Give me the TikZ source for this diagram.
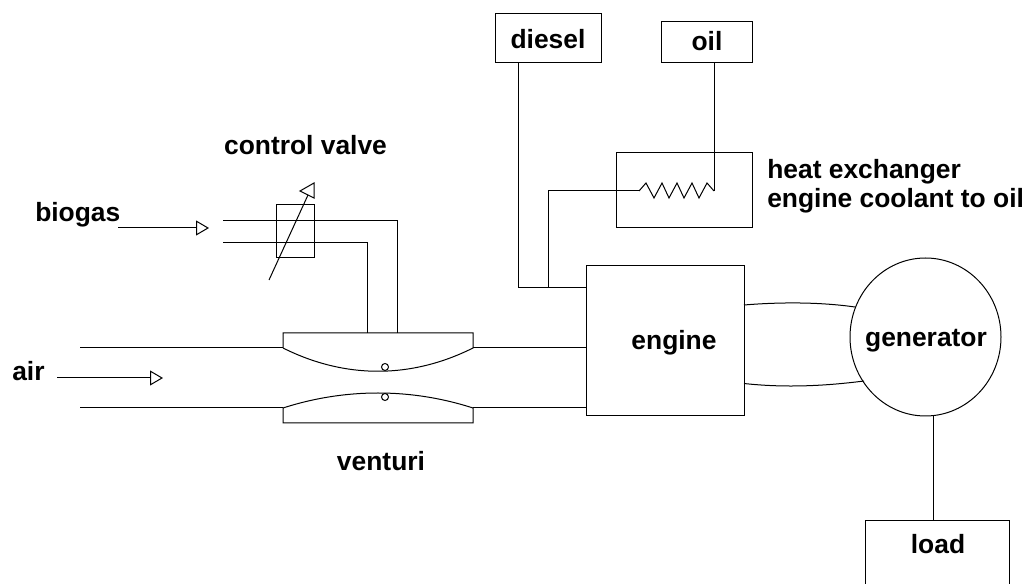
\documentclass[tikz,border=0pt]{standalone}
\usepackage{fontspec}
\setmainfont{Liberation Sans}
\usetikzlibrary{arrows.meta,shapes.geometric}

\def\unit{0.75pt}

\tikzset{
  base/.style={line width=\unit},
  lbl/.style={font=\fontsize{19.8}{21.75}\selectfont\bfseries,inner sep=0pt},
  block/.style={draw,rectangle,line width=\unit,inner sep=0pt},
  flow/.style={base,-{Triangle[open,length=13*\unit,width=15*\unit]}}
}

\begin{document}
\begin{tikzpicture}[x=\unit,y=-\unit]

      \useasboundingbox (0,0) rectangle (1029,584);

      \begin{scope}[every node/.style={block}]
        \node[minimum width=106*\unit,minimum height=49*\unit] (diesel) at (548,38.5) {};
        \node[minimum width=91*\unit,minimum height=41*\unit]  (oil)    at (706.5,42.5) {};
        \node[minimum width=136*\unit,minimum height=75*\unit] (heat)   at (684,190.5) {};
        \node[minimum width=158*\unit,minimum height=150*\unit] (engine) at (665,341) {};
        \node[minimum width=38*\unit,minimum height=53*\unit]  (valve)  at (295,231.5) {};
        \node[minimum width=144*\unit,minimum height=100*\unit] (load)  at (937,571) {};
        \node[ellipse,minimum width=151*\unit,minimum height=158*\unit] (gen) at (925.5,337) {};
      \end{scope}

      \begin{scope}[every node/.style={lbl}]
        \node (dieseltxt) at (548,39.5)  {diesel};
        \node (oiltxt)    at (707,41)  {oil};
        \node (enginetxt) at (674,343) {engine};
        \node (gentxt)    at (926,340.5) {generator};
        \node (loadtxt)   at (938,544.5) {load};
        \node (valvetxt)  at (305.5,145.5) {control valve};
        \node (venturitxt) at (381,461) {venturi};
        \node[anchor=west] (biogastxt) at (35,215) {biogas};
        \node[anchor=west] (airtxt)    at (12,371) {air};
        \node[anchor=west,align=left] (heattxt) at (767,186) {heat exchanger\\engine coolant to oil};
      \end{scope}

      % fuel side
      \coordinate (dieseljoin) at (518,288);
      \coordinate (heatjoin)   at (548,288);
      \coordinate (coilin)     at (639,191);
      \coordinate (coilout)    at (714,191);

      \draw[base] (dieseljoin |- diesel.south) -- (dieseljoin) -- (dieseljoin -| engine.west);
      \draw[base] (heatjoin) -- (heatjoin |- coilin) -- (coilin);
      \draw[base] (coilout |- oil.south) -- (coilout);
      \draw[base] (coilin) -- ++(7,-8) -- ++(8,15) -- ++(8,-15) -- ++(7,15) -- ++(8,-15)
        -- ++(7,15) -- ++(8,-15) -- ++(7,15) -- ++(8,-15) -- (coilout);

      % venturi
      \coordinate (venttopl) at (283,348);
      \coordinate (venttopr) at (473,348);
      \coordinate (ventlowl) at (283,408);
      \coordinate (ventlowr) at (473,408);
      \coordinate (airtop)   at (80,348);
      \coordinate (airlow)   at (80,408);
      \coordinate (gasin)    at (367,333);
      \coordinate (airin)    at (397,333);

      \draw[base] (venttopl) -- (283,333) -- (473,333) -- (venttopr)
        .. controls (411,379) and (345,379) .. (venttopl);
      \draw[base] (ventlowl) -- (283,423) -- (473,423) -- (ventlowr)
        .. controls (411,388) and (345,388) .. (ventlowl);
      \node[circle,draw,line width=\unit,inner sep=0pt,minimum size=7*\unit] (holetop) at (385,367) {};
      \node[circle,draw,line width=\unit,inner sep=0pt,minimum size=7*\unit] (holelow) at (385,397) {};

      \draw[base] (airtop) -- (venttopl);
      \draw[base] (airlow) -- (ventlowl);
      \draw[base] (venttopr) -- (venttopr -| engine.west);
      \draw[base] (ventlowr) -- (ventlowr -| engine.west);

      % gas pipes through the valve
      \draw[base] (223,221) -- (397,221) -- (airin);
      \draw[base] (223,243) -- (367,243) -- (gasin);
      \draw[base] (269,280) -- (308,195);
      \draw[base] (300,191) -- (314,183) -- (314,198) -- cycle;

      % inlets
      \coordinate (biogasstart) at (118,228);
      \coordinate (biogasend)   at (209,228);
      \coordinate (airstart)    at (57,378);
      \coordinate (airend)      at (163,378);
      \draw[flow] (biogasstart) -- (biogasend);
      \draw[flow] (airstart) -- (airend);

      % shaft and load
      \coordinate (enginetop) at (744,305);
      \coordinate (enginelow) at (744,383.5);
      \coordinate (gentop)    at (855,307);
      \coordinate (genlow)    at (864,381);
      \coordinate (genout)    at (933,416);
      \draw[base] (enginetop) .. controls (780,302) and (820,302) .. (gentop);
      \draw[base] (enginelow) .. controls (785,388) and (825,386) .. (genlow);
      \draw[base] (genout) -- (genout |- load.north);

    \end{tikzpicture}
\end{document}
